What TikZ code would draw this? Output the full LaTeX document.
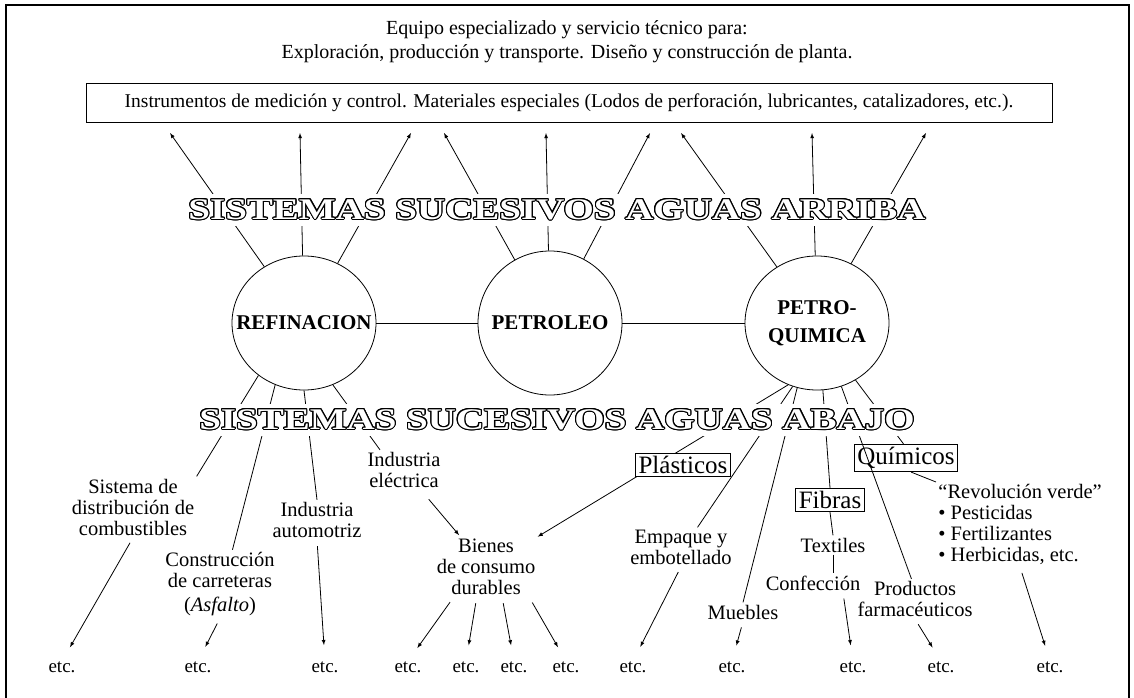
\documentclass[tikz,border=0pt]{standalone}
\usepackage{fontspec}
\setmainfont{Liberation Serif}
\usepackage{graphicx}
\usepackage{contour}
\usetikzlibrary{shapes.geometric}
\contourlength{0.9pt}
\newcommand{\hueco}[1]{\scalebox{1.3}[1]{\textcolor{white}{\contour{black}{#1}}}}
\newcommand{\plano}[1]{\makebox[0pt]{#1}}
\tikzset{
	rond/.style={draw, ellipse, minimum width=144pt, minimum height=134pt, inner sep=0pt, align=center, font=\fontsize{21}{28}\bfseries\selectfont},
	caja/.style={draw, fill=white, inner sep=3pt, font=\fontsize{25}{27}\selectfont},
	etiq/.style={align=center, inner sep=2pt, font=\fontsize{20.5}{21}\selectfont},
	fin/.style={inner sep=0pt, font=\fontsize{19}{21}\selectfont},
	gran/.style={fill=white, inner sep=5pt, font=\fontsize{30}{30}\bfseries\selectfont},
	hacia/.style={-latex, shorten <=6pt, shorten >=16pt}
}

\begin{document}
\begin{tikzpicture}[x=1pt, y=-1pt, line width=0.8pt]
		\useasboundingbox (0,0) rectangle (1134,698);
		\draw[line width=1.2pt] (6,698) -- (6,5) -- (1129,5) -- (1129,698);
		%
		\node (tit)[align=center, font=\fontsize{20}{24}\selectfont] at (567,42) {Equipo especializado y servicio técnico para:\\Exploración, producción y transporte. Diseño y construcción de planta.};
		\node (ins)[draw, minimum width=966pt, minimum height=39pt, font=\fontsize{19.5}{20}\selectfont] at (569,102.5) {Instrumentos de medición y control. Materiales especiales (Lodos de perforación, lubricantes, catalizadores, etc.).};
		\foreach \n/\x in {1/170, 2/300, 3/411, 4/444, 5/546, 6/650, 7/681, 8/812, 9/926}
			\coordinate (u\n) at (\x,133);
		%
		\node (ref)[rond] at (304,323) {\plano{REFINACION}};
		\node (pet)[rond, minimum height=144pt] at (550,323) {\plano{PETROLEO}};
		\node (pq)[rond] at (817,323) {\plano{PETRO-}\\\plano{QUIMICA}};
		\draw (ref) -- (pet);
		\draw (pet) -- (pq);
		\foreach \u in {u1,u2,u3} \draw[-latex] (ref) -- (\u);
		\foreach \u in {u4,u5,u6} \draw[-latex] (pet) -- (\u);
		\foreach \u in {u7,u8,u9} \draw[-latex] (pq) -- (\u);
		%
		\node (sis)[etiq] at (133,507) {Sistema de\\distribución de\\combustibles};
		\node (con)[etiq] at (220,584) {Construcción\\de carreteras\\[3pt](\textit{Asfalto})};
		\node (aut)[etiq] at (317,520) {Industria\\automotriz};
		\node (iel)[etiq] at (404,470) {Industria\\eléctrica};
		\node (bie)[etiq] at (486,567) {Bienes\\de consumo\\durables};
		\node (emp)[etiq] at (681,547) {Empaque y\\embotellado};
		\node (mue)[etiq] at (743,612) {Muebles};
		\node (fib)[caja] at (830,500) {Fibras};
		\node (qui)[caja] at (906,458) {Químicos};
		\node (tex)[etiq] at (833,545) {Textiles};
		\node (cnf)[etiq] at (813,583) {Confección};
		\node (far)[etiq] at (915,599) {Productos\\farmacéuticos};
		\node (rev)[etiq, align=left, anchor=north west] at (936,482) {“Revolución verde”\\• Pesticidas\\• Fertilizantes\\• Herbicidas, etc.};
		\foreach \n/\x in {1/62, 2/198, 3/325, 4/408, 5/466, 6/514, 7/566, 8/633, 9/732, 10/853, 11/941, 12/1050}
			\node (e\n)[fin] at (\x,667) {etc.};
		%
		\draw (ref.229) -- (sis.north east);
		\draw (ref.245) -- (con.70);
		\draw (ref.south) -- (aut.north);
		\draw (ref.295) -- (iel.140);
		\draw[-latex] (pq.245) -- (bie.north east);
		\draw (pq.249) -- (emp.50);
		\draw (pq.253) -- (mue.north);
		\draw (pq.275) -- (fib.north);
		\draw (pq.291) -- (far.100);
		\draw (pq.304) -- (qui.100);
		\draw (qui.290) -- (rev.north west);
		\draw (fib.south) -- (tex.north);
		\draw (tex.south) -- (tex.south |- cnf.north);
		\draw[-latex, shorten <=12pt, shorten >=2pt] (iel) -- (bie);
		%
		\draw[hacia] (sis.south) -- (e1.north);
		\draw[hacia] (con.south) -- (e2.north);
		\draw[hacia] (aut.south) -- (e3.north);
		\draw[hacia] (bie.223) -- (e4.north);
		\draw[hacia] (bie.253) -- (e5.north);
		\draw[hacia] (bie.298) -- (e6.north);
		\draw[hacia] (bie.325) -- (e7.north);
		\draw[hacia] (emp.south) -- (e8.north);
		\draw[hacia] (mue.south) -- (e9.north);
		\draw[hacia] ([xshift=30pt]cnf.south) -- (e10.north);
		\draw[hacia] (far.south) -- (e11.north);
		\draw[hacia] (rev.south) -- (e12.north);
		%
		\node (pla)[caja] at (683,465) {Plásticos};
		\node (arr)[gran] at (557,210) {\hueco{SISTEMAS SUCESIVOS AGUAS ARRIBA}};
		\node (aba)[gran] at (557,420) {\hueco{SISTEMAS SUCESIVOS AGUAS ABAJO}};
	\end{tikzpicture}
\end{document}
